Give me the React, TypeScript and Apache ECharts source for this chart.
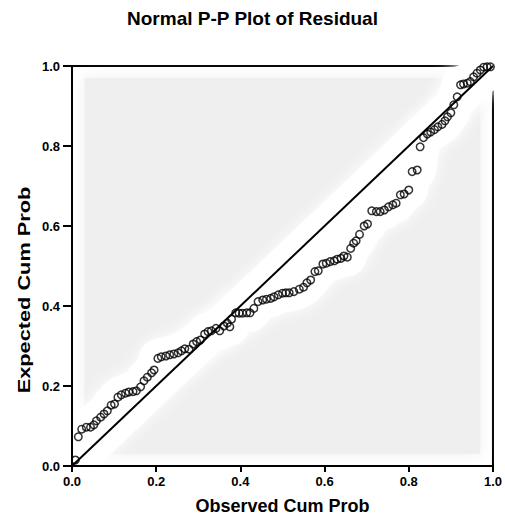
import React, { useEffect, useRef } from "react";
import * as echarts from "echarts";

const titleText = "Normal P-P Plot of Residual";
const xAxisName = "Observed Cum Prob";
const yAxisName = "Expected Cum Prob";

const observedCumProb = [
  0.008, 0.015, 0.023, 0.034, 0.044, 0.052, 0.058, 0.068, 0.076, 0.084,
  0.093, 0.101, 0.109, 0.117, 0.127, 0.135, 0.145, 0.153, 0.163, 0.171,
  0.179, 0.189, 0.195, 0.204, 0.212, 0.223, 0.232, 0.242, 0.252, 0.260,
  0.268, 0.278, 0.288, 0.296, 0.305, 0.315, 0.323, 0.331, 0.342, 0.351,
  0.361, 0.369, 0.375, 0.379, 0.389, 0.397, 0.405, 0.415, 0.423, 0.432,
  0.442, 0.453, 0.462, 0.472, 0.480, 0.490, 0.500, 0.508, 0.516, 0.527,
  0.540, 0.550, 0.558, 0.567, 0.577, 0.585, 0.596, 0.604, 0.613, 0.623,
  0.630, 0.639, 0.646, 0.654, 0.662, 0.669, 0.675, 0.683, 0.694, 0.702,
  0.712, 0.723, 0.732, 0.742, 0.752, 0.762, 0.770, 0.780, 0.789, 0.800,
  0.808, 0.820, 0.827, 0.835, 0.844, 0.852, 0.861, 0.869, 0.879, 0.886,
  0.892, 0.900, 0.907, 0.915, 0.923, 0.930, 0.939, 0.946, 0.954, 0.962,
  0.970, 0.978, 0.986, 0.994,
];

const expectedCumProb = [
  0.015, 0.073, 0.092, 0.097, 0.097, 0.103, 0.113, 0.122, 0.130, 0.138,
  0.152, 0.155, 0.172, 0.178, 0.182, 0.185, 0.186, 0.188, 0.198, 0.213,
  0.222, 0.233, 0.240, 0.269, 0.273, 0.275, 0.278, 0.280, 0.283, 0.288,
  0.293, 0.292, 0.305, 0.311, 0.315, 0.330, 0.336, 0.338, 0.344, 0.338,
  0.350, 0.357, 0.348, 0.367, 0.383, 0.382, 0.382, 0.383, 0.383, 0.394,
  0.411, 0.415, 0.417, 0.419, 0.423, 0.428, 0.432, 0.433, 0.433, 0.436,
  0.442, 0.447, 0.458, 0.465, 0.486, 0.488, 0.505, 0.507, 0.511, 0.513,
  0.517, 0.519, 0.525, 0.522, 0.544, 0.557, 0.563, 0.579, 0.600, 0.605,
  0.638, 0.636, 0.636, 0.640, 0.648, 0.653, 0.657, 0.678, 0.680, 0.690,
  0.736, 0.740, 0.798, 0.821, 0.830, 0.835, 0.841, 0.848, 0.854, 0.863,
  0.873, 0.883, 0.903, 0.923, 0.953, 0.955, 0.957, 0.961, 0.973, 0.982,
  0.990, 0.997, 0.998, 0.998,
];

const diagonal = [
  [0, 0],
  [1, 1],
];

const axisMin = 0;
const axisMax = 1;
const axisInterval = 0.2;

const FONT = "'Liberation Sans', Arial, Helvetica, sans-serif";

export default function App() {
  const ref = useRef<HTMLDivElement>(null);

  useEffect(() => {
    if (!ref.current) return;
    const chart = echarts.init(ref.current, null, { renderer: "svg" });
    const points = observedCumProb.map((x, i) => [x, expectedCumProb[i]]);

    chart.setOption({
      animation: false,
      backgroundColor: "#ffffff",
      title: {
        text: titleText,
        left: "center",
        top: 4,
        textStyle: {
          fontFamily: FONT,
          fontWeight: "bold",
          fontSize: 19,
          color: "#000",
        },
      },
      grid: {
        left: 72,
        right: 12,
        top: 66,
        bottom: 54,
        show: true,
        borderColor: "#000",
        borderWidth: 2,
        backgroundColor: "#ffffff",
      },
      xAxis: {
        type: "value",
        z: 10,
        min: axisMin,
        max: axisMax,
        interval: axisInterval,
        name: xAxisName,
        nameLocation: "middle",
        nameGap: 31,
        nameTextStyle: {
          fontFamily: FONT,
          fontWeight: "bold",
          fontSize: 18,
          color: "#000",
        },
        axisLine: { show: true, lineStyle: { color: "#000", width: 2 } },
        axisTick: { show: true, length: 6, lineStyle: { color: "#000", width: 2 } },
        axisLabel: {
          margin: 9,
          fontFamily: FONT,
          fontWeight: "bold",
          fontSize: 13,
          color: "#000",
          formatter: (v: number) => v.toFixed(1),
        },
        splitLine: { show: false },
      },
      yAxis: {
        type: "value",
        z: 10,
        min: axisMin,
        max: axisMax,
        interval: axisInterval,
        axisLine: { show: true, lineStyle: { color: "#000", width: 2 } },
        axisTick: { show: true, length: 9, lineStyle: { color: "#000", width: 2 } },
        axisLabel: {
          margin: 12,
          fontFamily: FONT,
          fontWeight: "bold",
          fontSize: 13,
          color: "#000",
          formatter: (v: number) => v.toFixed(1),
        },
        splitLine: { show: false },
      },
      graphic: [
        {
          type: "text",
          x: 24,
          y: 290,
          z: 20,
          rotation: Math.PI / 2,
          scaleX: 1.28,
          style: {
            text: yAxisName,
            fontFamily: FONT,
            fontWeight: "bold",
            fontSize: 17,
            fill: "#000",
            textAlign: "center",
            textVerticalAlign: "middle",
          },
        },
      ],
      series: [
        {
          type: "line",
          data: diagonal,
          symbol: "none",
          silent: true,
          z: 1,
          lineStyle: { width: 0, opacity: 0 },
          markArea: {
            silent: true,
            itemStyle: {
              color: "#efefef",
              shadowBlur: 14,
              shadowColor: "#efefef",
            },
            data: [
              [
                { xAxis: 0.03, yAxis: 0.03 },
                { xAxis: 0.97, yAxis: 0.97 },
              ],
            ],
          },
        },
        {
          type: "line",
          data: diagonal,
          symbol: "none",
          silent: true,
          z: 2,
          lineStyle: {
            color: "#ffffff",
            width: 36,
            shadowBlur: 14,
            shadowColor: "#ffffff",
          },
        },
        {
          type: "line",
          data: points,
          symbol: "none",
          silent: true,
          z: 2,
          lineStyle: {
            color: "#ffffff",
            width: 38,
            join: "round",
            shadowBlur: 14,
            shadowColor: "#ffffff",
          },
        },
        {
          type: "line",
          data: diagonal,
          symbol: "none",
          silent: true,
          z: 3,
          lineStyle: { color: "#000", width: 2 },
        },
        {
          type: "scatter",
          data: points,
          symbol: "circle",
          symbolSize: 7.5,
          z: 4,
          itemStyle: {
            color: "rgba(0,0,0,0)",
            borderColor: "#000",
            borderWidth: 1.5,
          },
        },
      ],
    });

    return () => {
      chart.dispose();
    };
  }, []);

  return (
    <div
      ref={ref}
      style={{ position: "fixed", left: 0, top: 0, width: 505, height: 520 }}
    />
  );
}
